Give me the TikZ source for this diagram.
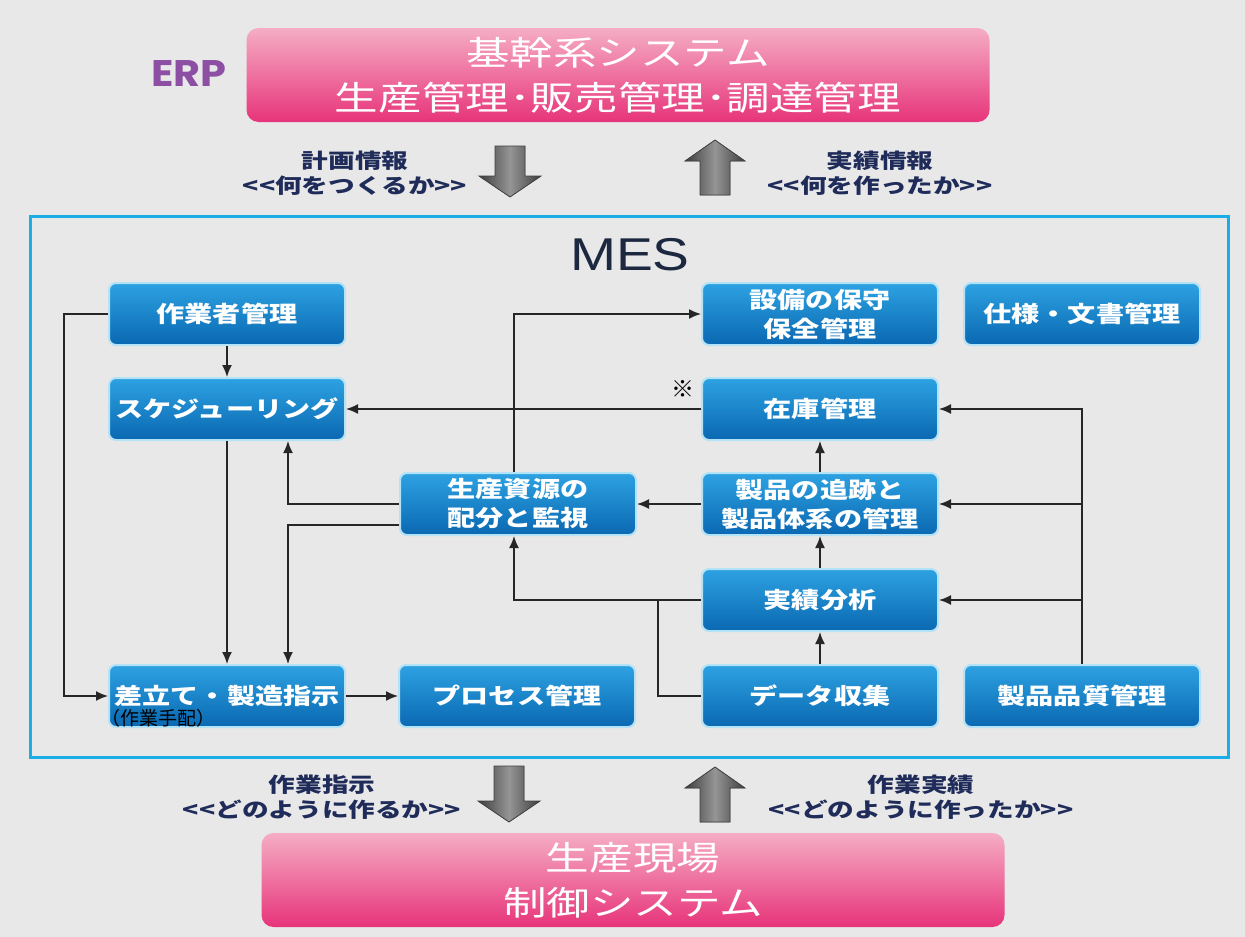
\documentclass[tikz,border=0pt]{standalone}
\usepackage{fontspec}
\usetikzlibrary{arrows.meta,calc}
\newfontfamily\jp[FakeStretch=1.3]{Noto Sans CJK JP}
\newfontfamily\jpbox[FakeStretch=1.25]{Noto Sans CJK JP}
\newfontfamily\jpplain{Noto Sans CJK JP}
\newfontfamily\mesfont[FakeStretch=1.2]{Liberation Sans}
\newfontfamily\erpfont[FakeStretch=1.12]{Poppins}
\definecolor{bgc}{HTML}{E8E8E8}
\definecolor{boxtop}{HTML}{2DA2E2}
\definecolor{boxbot}{HTML}{0A68B2}
\definecolor{boxedge}{HTML}{B4E2F6}
\definecolor{pinktop}{HTML}{F5ADC4}
\definecolor{pinkbot}{HTML}{E7347A}
\definecolor{navy}{HTML}{1F2C5A}
\definecolor{mescol}{HTML}{1C2840}
\definecolor{frame}{HTML}{1AAEE6}
\definecolor{erpcol}{HTML}{8C4FA3}
\definecolor{blkdark}{HTML}{3E3E3E}
\definecolor{blklight}{HTML}{959595}
\newcommand\blkdown[3]{%
  \filldraw[blk] (#1-15,#2) -- (#1+15,#2) -- (#1+15,#3-21) -- (#1+31,#3-21) -- (#1,#3) -- (#1-31,#3-21) -- (#1-15,#3-21) -- cycle;}
\newcommand\blkup[3]{%
  \filldraw[blk] (#1-15,#3) -- (#1+15,#3) -- (#1+15,#2+21) -- (#1+30,#2+21) -- (#1,#2) -- (#1-30,#2+21) -- (#1-15,#2+21) -- cycle;}
\begin{document}
\begin{tikzpicture}[x=1pt,y=-1pt,
  box/.style={rounded corners=7pt, minimum width=236pt, minimum height=62pt,
    top color=boxtop, bottom color=boxbot, draw=boxedge, line width=2pt,
    text=white, font=\jpbox\bfseries\fontsize{22.5}{29}\selectfont, align=center, inner sep=2pt},
  pinkbox/.style={rounded corners=12pt, minimum width=743pt, minimum height=94pt,
    top color=pinktop, bottom color=pinkbot, draw=none,
    text=white, font=\jp\fontsize{33.5}{45}\selectfont, align=center},
  lbl/.style={text=navy, font=\jp\bfseries\fontsize{20.5}{25}\selectfont, align=center, inner sep=0pt},
  line/.style={line width=1.6pt, black!85},
  arr/.style={line, -{Latex[length=12pt,width=10pt]}},
  blk/.style={left color=blkdark, right color=blkdark, middle color=blklight, draw=black!75, line width=0.8pt}]
\useasboundingbox (0,0) rectangle (1245,937);
\fill[bgc] (0,0) rectangle (1245,937);

% ERP layer
\node[text=erpcol, font=\erpfont\bfseries\fontsize{37}{42}\selectfont] (erp) at (189,74) {ERP};
\node[pinkbox] (top) at (618,75) {基幹系システム\\生産管理･販売管理･調達管理};

\node[lbl] (plan) at (355,173) {計画情報\\<{}<何をつくるか>{}>};
\node[lbl] (act) at (880,173) {実績情報\\<{}<何を作ったか>{}>};
\blkdown{510}{146}{197}
\blkup{715}{140}{195}

% MES frame
\draw[frame, line width=3pt] (30,216) rectangle (1228,757);
\node[text=mescol, font=\mesfont\fontsize{46}{50}\selectfont] (mes) at (630,255) {MES};

\node[box] (wm) at (227,314) {作業者管理};
\node[box] (sch) at (227,409) {スケジューリング};
\node[box] (dsp) at (227,696) {差立て・製造指示};
\node[box] (prc) at (517,696) {プロセス管理};
\node[box] (res) at (518,504) {生産資源の\\配分と監視};
\node[box] (mnt) at (820,314) {設備の保守\\保全管理};
\node[box] (doc) at (1082,314) {仕様・文書管理};
\node[box] (inv) at (820,409) {在庫管理};
\node[box] (trk) at (820,504) {製品の追跡と\\製品体系の管理};
\node[box] (ana) at (820,600) {実績分析};
\node[box] (dat) at (820,696) {データ収集};
\node[box] (qual) at (1082,696) {製品品質管理};

\node[font=\jpplain\fontsize{23}{25}\selectfont] (mark) at (683,389) {※};
\node[font=\jpplain\fontsize{19}{21}\selectfont, inner sep=0pt] (tehai) at (158,718) {（作業手配）};

% connectors
\draw[arr] (wm.south) -- (sch.north);
\draw[arr] (wm.west) -- ++(-44,0) |- (dsp.west);
\draw[arr] (sch.south) -- (dsp.north);
\draw[arr] (res.west) -| ([xshift=61pt]sch.south);
\draw[arr] ([yshift=-21pt]res.west) -| ([xshift=61pt]dsp.north);
\draw[arr] (dsp.east) -- (prc.west);
\draw[arr] ([xshift=-4pt]res.north) |- (mnt.west);
\draw[arr] (inv.west) -- (sch.east);
\draw[arr] (trk.west) -- (res.east);
\draw[arr] (trk.north) -- (inv.south);
\draw[arr] (ana.north) -- (trk.south);
\draw[arr] (dat.north) -- (ana.south);
\draw[arr] (ana.west) -| ([xshift=-4pt]res.south);
\draw[line] (dat.west) -- ++(-43,0) |- (ana.west);
\draw[arr] (qual.north) |- (inv.east);
\draw[arr] (qual.north |- trk.east) -- (trk.east);
\draw[arr] (qual.north |- ana.east) -- (ana.east);

% shop floor layer
\node[lbl] (inst) at (322,797) {作業指示\\<{}<どのように作るか>{}>};
\node[lbl] (rec) at (921,797) {作業実績\\<{}<どのように作ったか>{}>};
\blkdown{509}{766}{822}
\blkup{715}{767}{822}
\node[pinkbox, minimum height=94pt] (bot) at (633,880) {生産現場\\制御システム};
\end{tikzpicture}
\end{document}
